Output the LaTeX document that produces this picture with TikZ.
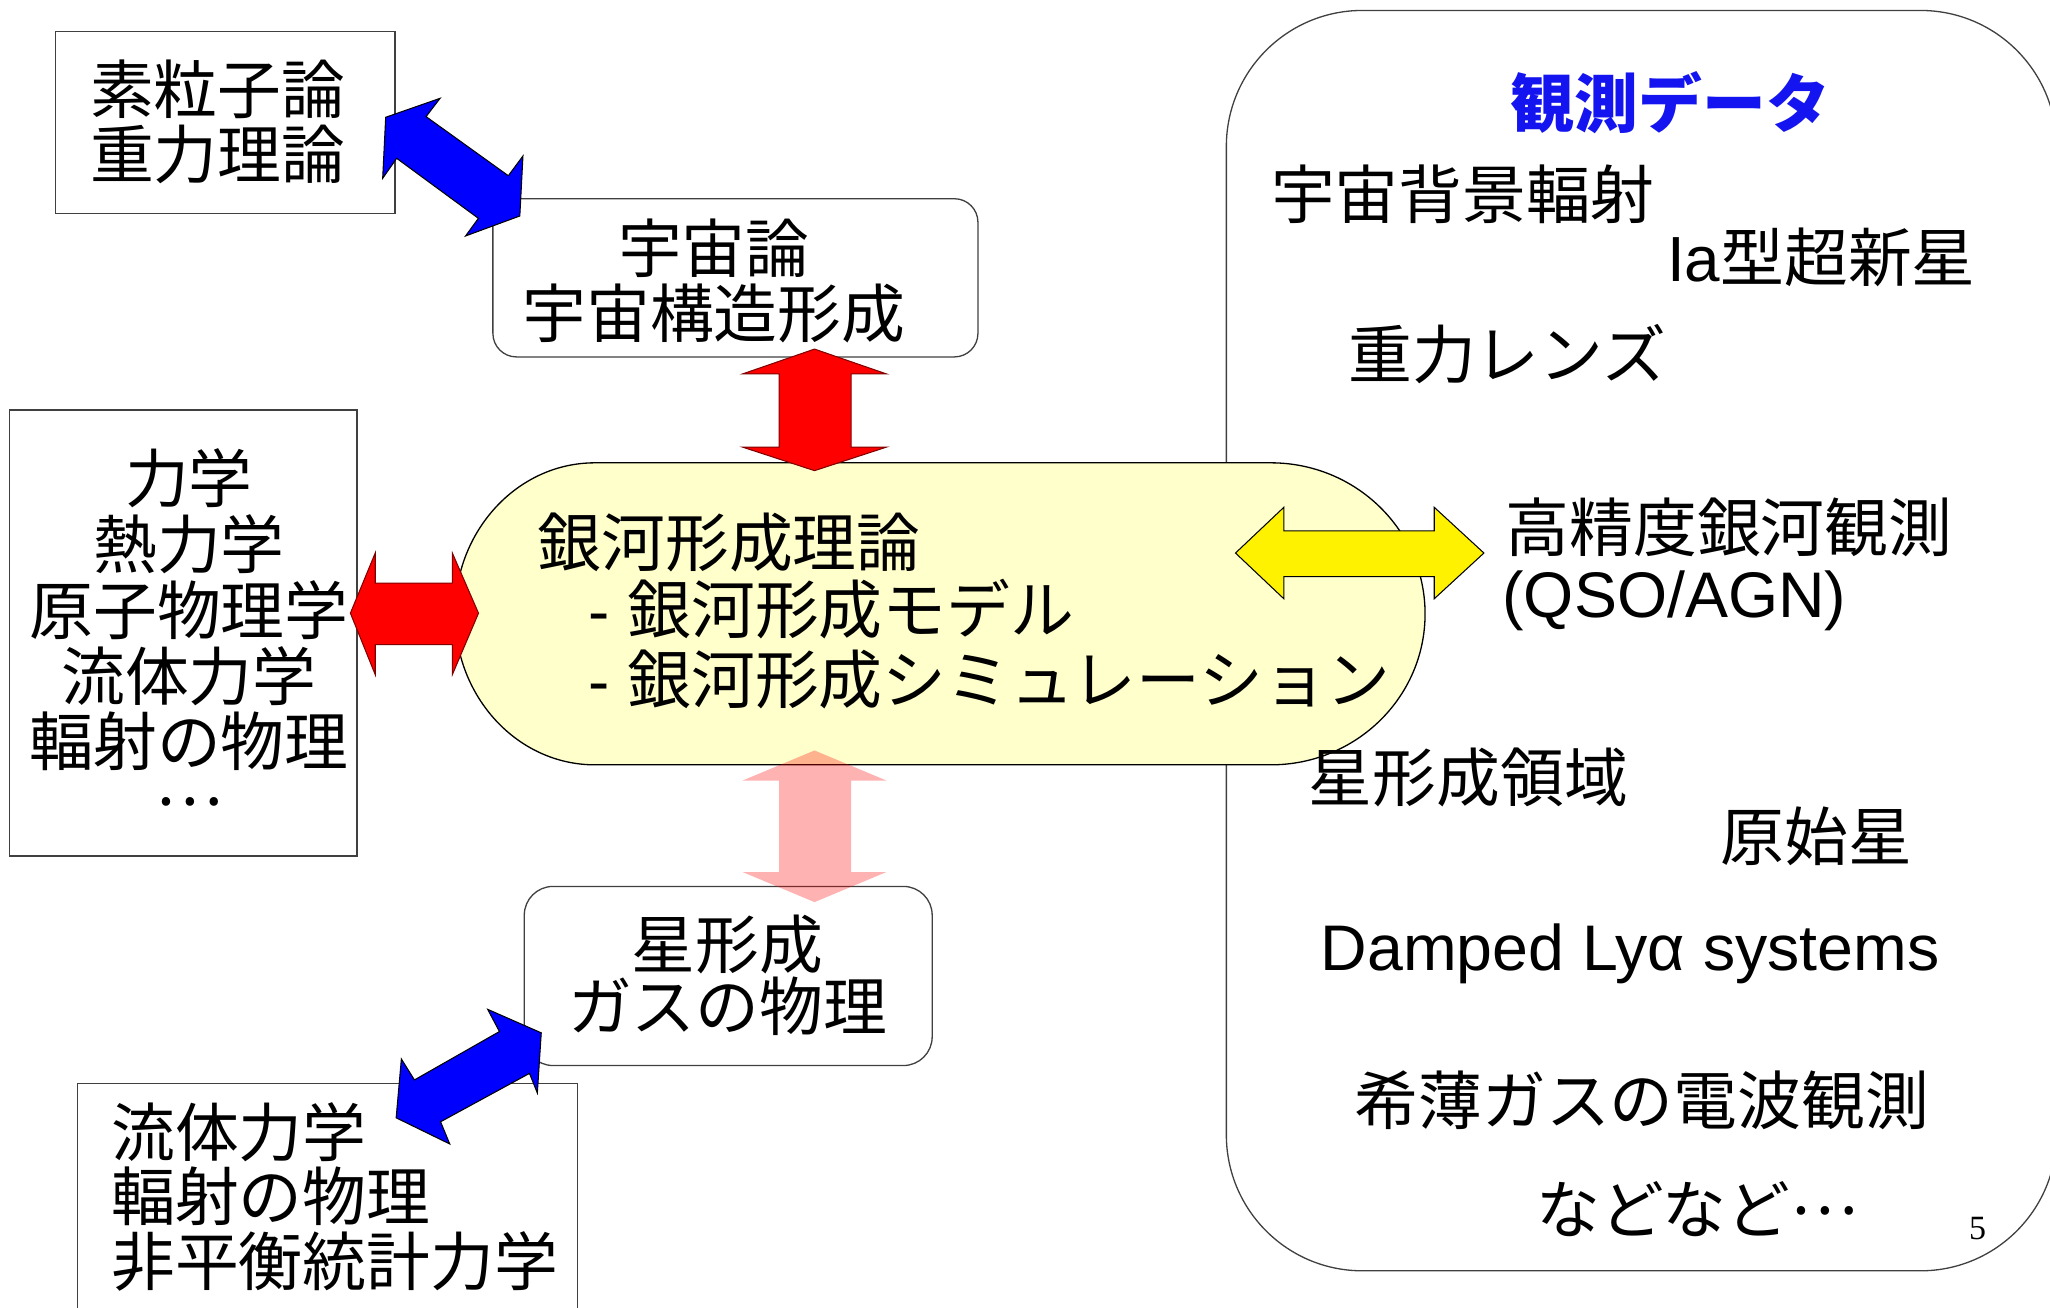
\documentclass[tikz,border=0pt]{standalone}
\usepackage{fontspec}
\setmainfont{Noto Sans CJK JP}
\newfontfamily\lat{Liberation Sans}
\newfontfamily\tms{Liberation Serif}
\definecolor{cfill}{RGB}{255,255,204}
\definecolor{obsblue}{RGB}{20,20,240}
\newcommand{\mydots}{\raisebox{15pt}[21pt][0pt]{…}}
\tikzset{
  box/.style={draw=black!75, line width=1pt, fill=white, inner sep=0pt},
  rbox/.style={box, rounded corners=18pt},
  t/.style={inner sep=0pt, font=\fontsize{48.8}{49}\selectfont, anchor=base west, text height=38pt, text depth=4pt},
  tc/.style={t, anchor=base},
  tl/.style={t, font=\lat\fontsize{49.3}{49}\selectfont},
  redarrow/.style={fill=red, draw=red!50!black, line width=0.8pt},
  bluearrow/.style={fill=blue, draw=black, line width=0.8pt},
  yelarrow/.style={fill=yellow, draw=black, line width=0.8pt},
  pinkarrow/.style={fill=red, fill opacity=0.3, draw=none},
}
\begin{document}
\begin{tikzpicture}[x=1pt,y=-1pt]
\useasboundingbox (0,0) rectangle (1568,1000);
\clip (0,0) rectangle (1568,1000);

% big observation panel
\node[box, rounded corners=104pt, minimum width=635pt, minimum height=964pt] (R) at (1255.5,490) {};

% boxes
\node[box, minimum width=260pt, minimum height=139pt] (A) at (172.2,93.7) {};
\node[rbox, minimum width=371pt, minimum height=121pt] (B) at (562.5,212.5) {};
\node[box, minimum width=265.7pt, minimum height=341pt] (D) at (140.2,484.2) {};
\node[rbox, rounded corners=22pt, minimum width=312pt, minimum height=137pt] (E) at (557,746.5) {};
\node[box, minimum width=382pt, minimum height=200pt] (F) at (250.5,928.8) {};

% central galaxy formation shape
\draw[fill=cfill, draw=black, line width=1pt] (455,354) -- (972,354)
  .. controls (1037.2,354) and (1090,405.7) .. (1090,469.5)
  .. controls (1090,533.3) and (1037.2,585) .. (972,585) -- (455,585)
  .. controls (395.9,585) and (348,533.3) .. (348,469.5)
  .. controls (348,405.7) and (395.9,354) .. (455,354) -- cycle;
\coordinate (C) at (719,469.5);

% arrows
\draw[bluearrow] (295,89.7) -- (336.6,75.2) -- (325.9,89.2) -- (388.8,134.4) -- (400,119.3) -- (397.6,165.2) -- (356.1,180.5) -- (365.9,167) -- (303.4,121.1) -- (292.7,136.4) -- cycle;
\draw[redarrow] (623,267) -- (678,286) -- (651,286) -- (651,342) -- (678,342) -- (623,360) -- (568,342) -- (596,342) -- (596,286) -- (568,286) -- cycle;
\draw[redarrow] (268,469) -- (287,423) -- (287,446) -- (346,446) -- (346,423) -- (366,469) -- (346,516) -- (346,493) -- (287,493) -- (287,516) -- cycle;
\draw[bluearrow] (414,790) -- (411,836) -- (405,821) -- (337,858) -- (344,875) -- (303,855) -- (307,810) -- (317,826) -- (382,789) -- (373,772) -- cycle;
\draw[yelarrow] (945,423) -- (982,388) -- (982,406) -- (1097,406) -- (1097,388) -- (1135,423) -- (1097,458) -- (1097,441) -- (982,441) -- (982,458) -- cycle;
\fill[pinkarrow] (623,574) -- (678,597) -- (651,597) -- (651,667) -- (678,667) -- (623,690) -- (568,667) -- (596,667) -- (596,597) -- (568,597) -- cycle;

% texts: box A
\node[t] (a1) at (68.7,87) {素粒子論};
\node[t] (a2) at (68.7,136.8) {重力理論};
% box B
\node[tc] (b1) at (546,208.2) {宇宙論};
\node[tc] (b2) at (546,257.9) {宇宙構造形成};
% box D
\node[tc] (d1) at (144.5,384.5) {力学};
\node[tc] (d2) at (144.5,434.8) {熱力学};
\node[tc] (d3) at (144.5,485.5) {原子物理学};
\node[tc] (d4) at (144.5,535.8) {流体力学};
\node[tc] (d5) at (144.5,585.2) {輻射の物理};
\node[tc, text height=21pt] (d6) at (144.5,631.2) {\mydots};
% central
\node[t] (c1) at (411,433.2) {銀河形成理論};
\node[t] (c2) at (450,484.2) {{\lat - }銀河形成モデル};
\node[t] (c3) at (450,538.2) {{\lat - }銀河形成シミュレーション};
% box E
\node[tc] (e1) at (556.5,741) {星形成};
\node[tc] (e2) at (556.5,788.2) {ガスの物理};
% box F
\node[t] (f1) at (85,884.5) {流体力学};
\node[t] (f2) at (85,933.5) {輻射の物理};
\node[t] (f3) at (85,983.2) {非平衡統計力学};
% observation panel
\node[t, font=\fontsize{48.8}{49}\selectfont\bfseries, text=obsblue] (o0) at (1155.5,97.5) {観測データ};
\node[t] (o1) at (972,167.2) {宇宙背景輻射};
\node[t] (o2) at (1275,215.5) {{\lat Ia}型超新星};
\node[t] (o3) at (1031,289.2) {重力レンズ};
\node[t] (o4) at (1151.5,422.2) {高精度銀河観測};
\node[tl] (o5) at (1149,472.4) {(QSO/AGN)};
\node[t] (o6) at (1001,613.2) {星形成領域};
\node[t] (o7) at (1316,658.2) {原始星};
\node[tl] (o8) at (1010,742) {Damped Lyα systems};
\node[t] (o9) at (1036,860.2) {希薄ガスの電波観測};
\node[t] (o10) at (1175,943.8) {などなど\mydots};
\node[inner sep=0pt, anchor=base west, font=\tms\fontsize{26}{26}\selectfont] (pg) at (1506,948) {5};
\end{tikzpicture}
\end{document}
